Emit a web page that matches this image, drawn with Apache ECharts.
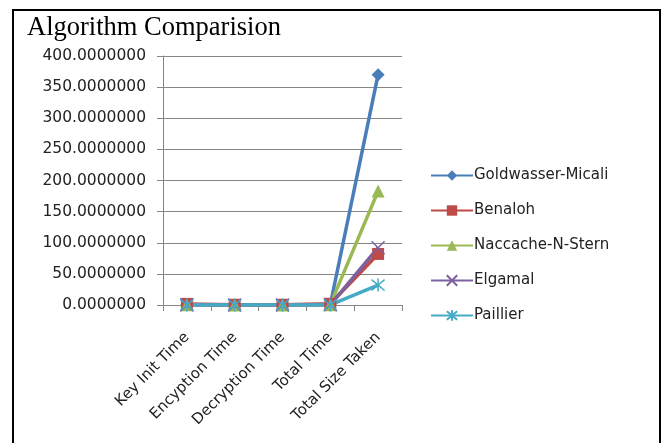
<!DOCTYPE html>
<html><head><meta charset="utf-8">
<script src="https://cdn.jsdelivr.net/npm/echarts@6/dist/echarts.min.js"></script>
<style>html,body{margin:0;padding:0;background:#fff}#c{width:664px;height:443px}</style>
</head><body><div id="c"></div>
<script>
const categories = ['Key Init Time', 'Encyption Time', 'Decryption Time', 'Total Time', 'Total Size Taken'];
const yTicks = [0, 50, 100, 150, 200, 250, 300, 350, 400];
const seriesNames = ['Goldwasser-Micali', 'Benaloh', 'Naccache-N-Stern', 'Elgamal', 'Paillier'];
const goldwasser = [0.3, 0.1, 0.1, 0.5, 370];
const benaloh = [1.8, 0.4, 0.4, 2.0, 82];
const naccache = [0.4, 0.1, 0.1, 0.6, 183];
const elgamal = [0.2, 0.1, 0.1, 0.4, 92];
const paillier = [0.1, 0.1, 0.1, 0.2, 32];

const colors = ['#4A7EBB', '#BE4B48', '#98B954', '#7D60A0', '#46AAC5'];
const symbols = ['diamond', 'rect', 'triangle',
  'path://M0,0L10,10M10,0L0,10',
  'path://M0,0L10,10M10,0L0,10M5,-1L5,11'];
const sizes = [13, 12, 13, 13, 13];
const data = [goldwasser, benaloh, naccache, elgamal, paillier];
const font = '"DejaVu Sans", sans-serif';

const chart = echarts.init(document.getElementById('c'), null, {renderer: 'canvas'});
chart.setOption({
  animation: false,
  title: {text: 'Algorithm Comparision', left: 22, top: 10,
    textStyle: {fontFamily: '"Liberation Serif", serif', fontSize: 26.5, fontWeight: 'normal', color: '#000'}},
  graphic: [{type: 'rect', shape: {x: 13, y: 10, width: 647, height: 460},
    style: {fill: 'none', stroke: '#000', lineWidth: 2}, silent: true}],
  grid: {left: 163, top: 56, right: 262, bottom: 138, containLabel: false},
  legend: {
    orient: 'vertical', left: 425, top: 163, itemWidth: 42, itemHeight: 13, itemGap: 20,
    textStyle: {fontFamily: font, fontSize: 15, color: '#222', padding: [0, 0, 0, -4]},
    data: seriesNames
  },
  xAxis: {
    type: 'category', data: categories, boundaryGap: true,
    axisLine: {lineStyle: {color: '#868686', width: 1}},
    axisTick: {show: true, alignWithLabel: false, length: 6, lineStyle: {color: '#868686'}},
    axisLabel: {rotate: 45, interval: 0, fontFamily: font, fontSize: 15, color: '#222', margin: 30}
  },
  yAxis: {
    type: 'value', min: yTicks[0], max: yTicks[yTicks.length - 1], interval: yTicks[1] - yTicks[0],
    axisLine: {show: true, lineStyle: {color: '#868686'}},
    axisTick: {show: true, length: 6, lineStyle: {color: '#868686'}},
    splitLine: {lineStyle: {color: '#868686', width: 1}},
    axisLabel: {formatter: v => v.toFixed(7), fontFamily: font, fontSize: 15.5, color: '#222', margin: 17}
  },
  series: seriesNames.map((n, i) => ({
    name: n, type: 'line', data: data[i], symbol: symbols[i], symbolSize: sizes[i],
    showAllSymbol: true,
    lineStyle: {color: colors[i], width: 3.5},
    itemStyle: {color: colors[i], borderColor: colors[i], borderWidth: i >= 3 ? 1.5 : 0}
  }))
});
</script></body></html>
